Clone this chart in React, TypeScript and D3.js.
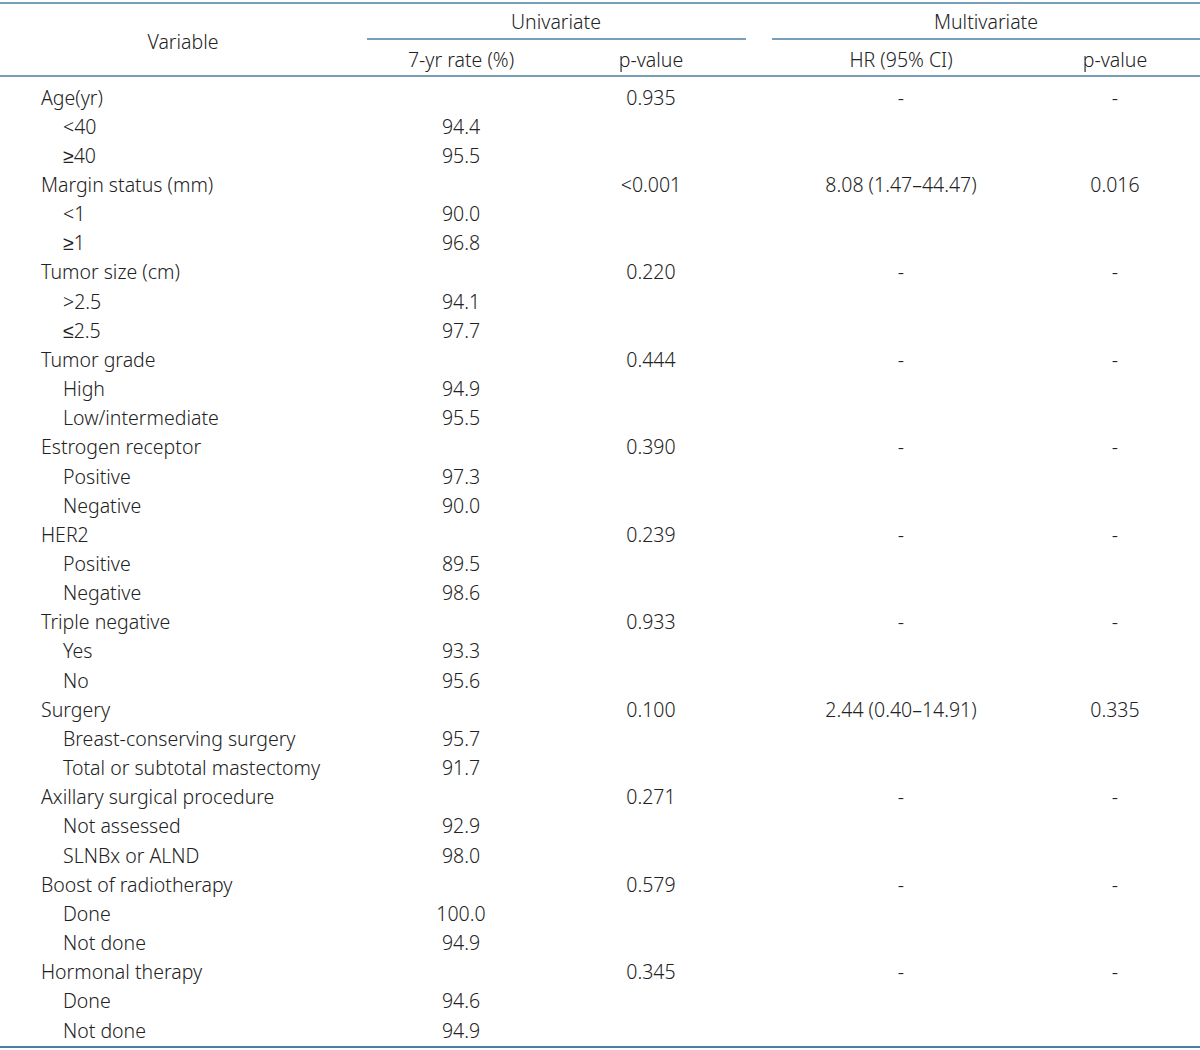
import React from "react";
import * as d3 from "d3";

const variables = [
  "Age(yr)", "<40", "≥40",
  "Margin status (mm)", "<1", "≥1",
  "Tumor size (cm)", ">2.5", "≤2.5",
  "Tumor grade", "High", "Low/intermediate",
  "Estrogen receptor", "Positive", "Negative",
  "HER2", "Positive", "Negative",
  "Triple negative", "Yes", "No",
  "Surgery", "Breast-conserving surgery", "Total or subtotal mastectomy",
  "Axillary surgical procedure", "Not assessed", "SLNBx or ALND",
  "Boost of radiotherapy", "Done", "Not done",
  "Hormonal therapy", "Done", "Not done",
];
const isSub = variables.map((_, i) => i % 3 !== 0);
const rates = [
  "", "94.4", "95.5",
  "", "90.0", "96.8",
  "", "94.1", "97.7",
  "", "94.9", "95.5",
  "", "97.3", "90.0",
  "", "89.5", "98.6",
  "", "93.3", "95.6",
  "", "95.7", "91.7",
  "", "92.9", "98.0",
  "", "100.0", "94.9",
  "", "94.6", "94.9",
];
const uniP = [
  "0.935", "", "",
  "<0.001", "", "",
  "0.220", "", "",
  "0.444", "", "",
  "0.390", "", "",
  "0.239", "", "",
  "0.933", "", "",
  "0.100", "", "",
  "0.271", "", "",
  "0.579", "", "",
  "0.345", "", "",
];
const hr = [
  "-", "", "",
  "8.08 (1.47–44.47)", "", "",
  "-", "", "",
  "-", "", "",
  "-", "", "",
  "-", "", "",
  "-", "", "",
  "2.44 (0.40–14.91)", "", "",
  "-", "", "",
  "-", "", "",
  "-", "", "",
];
const multiP = [
  "-", "", "",
  "0.016", "", "",
  "-", "", "",
  "-", "", "",
  "-", "", "",
  "-", "", "",
  "-", "", "",
  "0.335", "", "",
  "-", "", "",
  "-", "", "",
  "-", "", "",
];

const W = 1200;
const H = 1050;
const LINE = "#4a7fa3";
const TEXT = "#222";
const FONT = "'Noto Sans', sans-serif";
const FS = 19.5;

export default function App() {
  const y = d3
    .scalePoint<number>()
    .domain(d3.range(variables.length))
    .range([97, 1030]);
  const colX = { rate: 461, p: 651, hr: 901, mp: 1115 };

  return (
    <svg
      width={W}
      height={H}
      style={{ position: "absolute", left: 0, top: 0, background: "#fff" }}
      fontFamily={FONT}
      fontSize={FS}
      fontWeight={300}
      fill={TEXT}
    >
      <rect width={W} height={H} fill="#fff" />
      <line x1={0} x2={W} y1={3} y2={3} stroke={LINE} strokeWidth={1.5} />
      <line x1={367} x2={746} y1={39} y2={39} stroke={LINE} strokeWidth={1.5} />
      <line x1={772} x2={W} y1={39} y2={39} stroke={LINE} strokeWidth={1.5} />
      <line x1={0} x2={W} y1={76} y2={76} stroke={LINE} strokeWidth={1.5} />
      <line x1={0} x2={W} y1={1047} y2={1047} stroke={LINE} strokeWidth={2} />

      <g dominantBaseline="central" textAnchor="middle">
        <text x={183} y={41}>Variable</text>
        <text x={556} y={21}>Univariate</text>
        <text x={986} y={21}>Multivariate</text>
        <text x={colX.rate} y={59}>7-yr rate (%)</text>
        <text x={colX.p} y={59}>p-value</text>
        <text x={colX.hr} y={59}>HR (95% CI)</text>
        <text x={colX.mp} y={59}>p-value</text>
      </g>

      <g dominantBaseline="central">
        {variables.map((v, i) => (
          <g key={i}>
            <text x={isSub[i] ? 63 : 41} y={y(i)}>{v}</text>
            <text x={colX.rate} y={y(i)} textAnchor="middle">{rates[i]}</text>
            <text x={colX.p} y={y(i)} textAnchor="middle">{uniP[i]}</text>
            <text x={colX.hr} y={y(i)} textAnchor="middle">{hr[i]}</text>
            <text x={colX.mp} y={y(i)} textAnchor="middle">{multiP[i]}</text>
          </g>
        ))}
      </g>
    </svg>
  );
}
